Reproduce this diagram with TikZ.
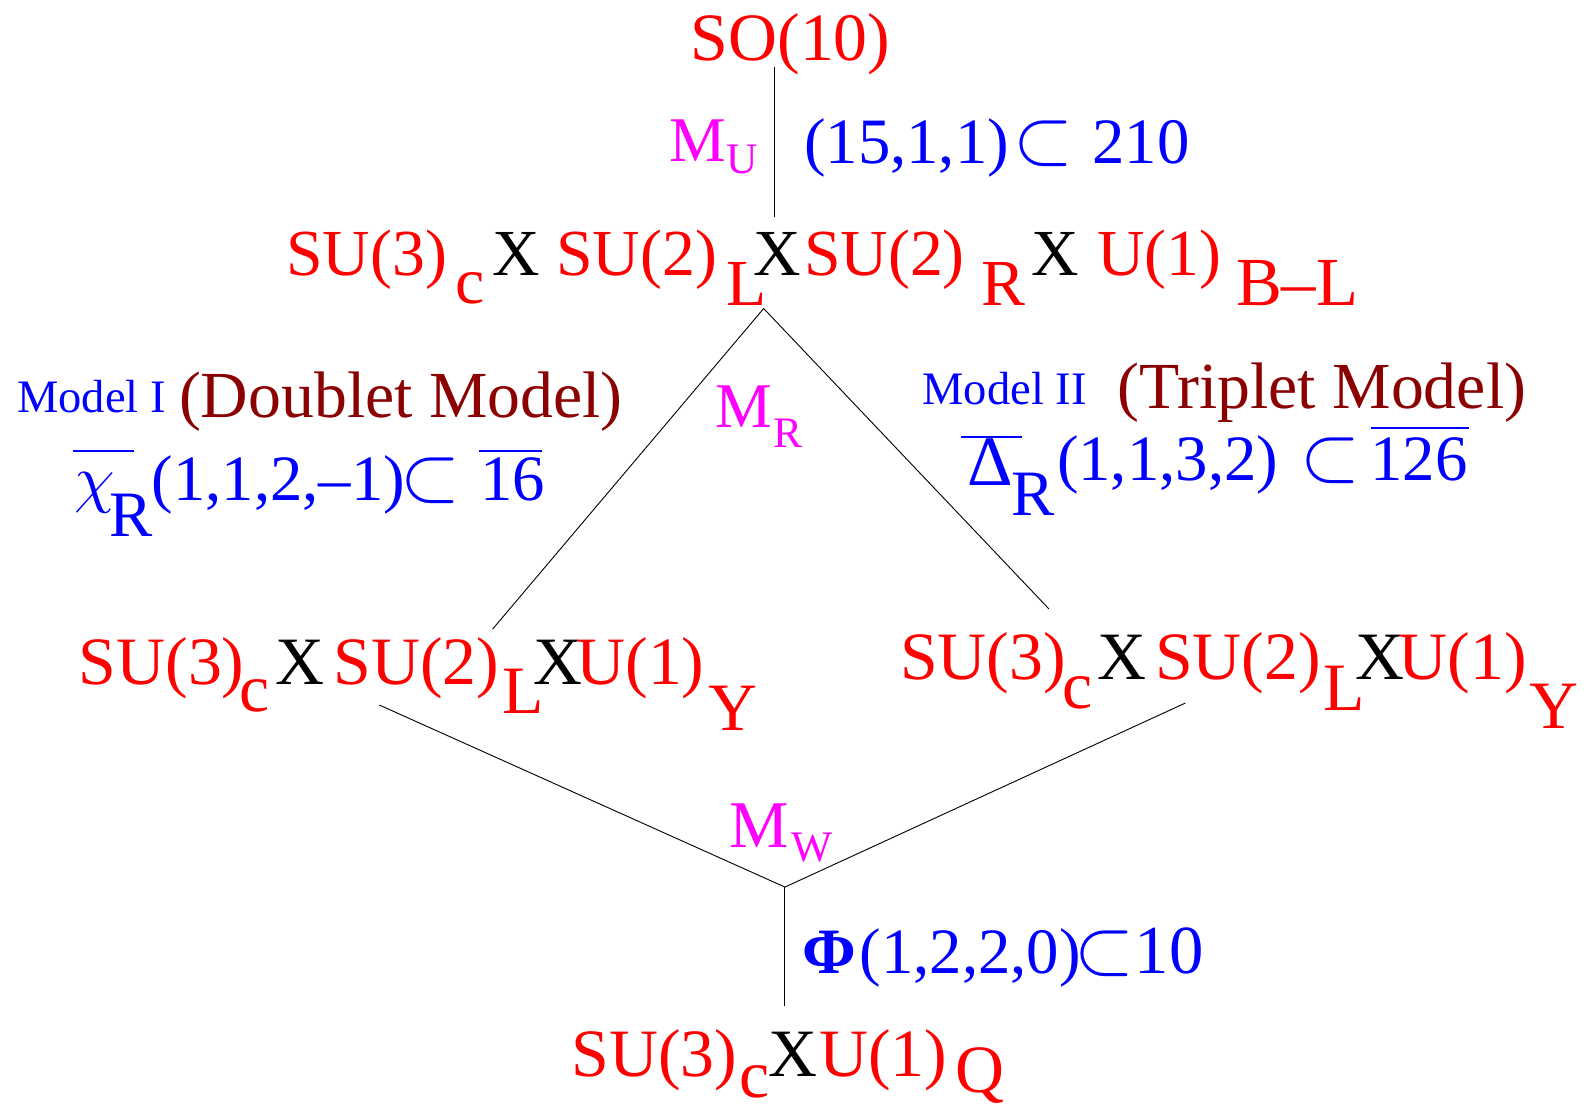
\documentclass[tikz,border=0pt]{standalone}
\usepackage{fontspec}
\setmainfont{Liberation Serif}
\definecolor{dred}{RGB}{139,0,0}
\definecolor{mgt}{RGB}{255,0,255}
\definecolor{rred}{RGB}{255,0,0}
\definecolor{bblue}{RGB}{0,0,255}
\newcommand\ovlx[4]{\rlap{\kern#2\rule[#1]{#3}{1.8pt}}#4}
\newcommand\fs[1]{\fontsize{#1}{#1}\selectfont}
\newcommand\psub{\scalebox{7.6}[7.8]{$\subset$}}
\begin{document}
\begin{tikzpicture}[x=1pt,y=-1pt,
  base/.style={inner sep=0pt,outer sep=0pt,anchor=base west},
  rA/.style={base,text=rred,font=\fs{65}},
  rB/.style={base,text=rred,font=\fs{67}},
  kA/.style={base,text=black,font=\fs{65}},
  kB/.style={base,text=black,font=\fs{67}},
  bl/.style={base,text=bblue,font=\fs{64}},
  bs/.style={base,text=bblue,font=\fs{46}},
  sub/.style={base,text=bblue,font=\fs{10}},
  dr/.style={base,text=dred,font=\fs{65}},
  mg/.style={base,text=mgt,font=\fs{63}},
  mgs/.style={base,text=mgt,font=\fs{43}},
  conn/.style={draw=black,line width=0.9pt}]
\useasboundingbox (0,0) rectangle (1568,1094);
% top
\node[rB] (so) at (683,60) {SO(10)};
\node[mg] (mu1) at (662,160) {M};
\node[mgs] (mu2) at (718,172) {U};
\node[bl] (r1a) at (795,162) {(15,1,1)};
\node[sub] (r1b) at (1002,162) {\psub};
\node[bl] (r1c) at (1080,162) {210};
% row 2
\node[rA] (a1) at (283,272) {SU(3)};
\node[rA] (a2) at (450,300) {c};
\node[kA] (a3) at (487,272) {X};
\node[rA] (a4) at (550,272) {SU(2)};
\node[rA] (a5) at (718,302) {L};
\node[kA] (a6) at (745,272) {X};
\node[rA] (a7) at (795,272) {SU(2)};
\node[rA] (a8) at (970,302) {R};
\node[kA] (a9) at (1020,272) {X};
\node[rA] (a10) at (1085,272) {U(1)};
\node[rA,font=\fs{68}] (a11) at (1222,302) {B–L};
% model I
\node[bs] (m1) at (17,408) {Model I};
\node[dr] (m1b) at (177,413) {(Doublet Model)};
\node[sub] (c1) at (74,495) {\ovlx{48pt}{-2pt}{60pt}{\scalebox{6.4}{$\chi$}}};
\node[bl] (c2) at (108,530) {R};
\node[bl] (c3) at (150,495) {(1,1,2,–1)};
\node[sub] (c4) at (396,495) {\psub};
\node[bl] (c5) at (475,495) {\ovlx{48pt}{-1pt}{62pt}{16}};
% M_R
\node[mg] (mr1) at (707,423) {M};
\node[mgs] (mr2) at (765,442) {R};
% model II
\node[bs] (m2) at (912,400) {Model II};
\node[dr] (m2b) at (1105,404) {(Triplet Model)};
\node[bl,font=\fs{70}] (d1) at (957,480) {\ovlx{47pt}{-7pt}{60pt}{Δ}};
\node[bl] (d2) at (1000,510) {R};
\node[bl] (d3) at (1045,475) {(1,1,3,2)};
\node[sub] (d4) at (1286,475) {\psub};
\node[bl] (d5) at (1355,475) {\ovlx{51pt}{0pt}{97pt}{126}};
% row 3 left
\node[rB] (l1) at (78,677) {SU(3)};
\node[rB] (l2) at (237,703) {c};
\node[kB] (l3) at (272,677) {X};
\node[rB] (l4) at (330,677) {SU(2)};
\node[rB] (l5) at (497,705) {L};
\node[kB] (l6) at (527,677) {X};
\node[rB] (l7) at (570,677) {U(1)};
\node[rB] (l8) at (700,722) {Y};
% row 3 right
\node[rB] (q1) at (890,672) {SU(3)};
\node[rB] (q2) at (1050,700) {c};
\node[kB] (q3) at (1085,672) {X};
\node[rB] (q4) at (1142,672) {SU(2)};
\node[rB] (q5) at (1308,702) {L};
\node[kB] (q6) at (1340,672) {X};
\node[rB] (q7) at (1383,672) {U(1)};
\node[rB] (q8) at (1512,720) {Y};
% M_W
\node[mg,font=\fs{66}] (mw1) at (721,838) {M};
\node[mgs] (mw2) at (783,852) {W};
% Phi
\node[bl,font=\fs{64}\bfseries] (p1) at (793,962) {Φ};
\node[bl] (p2) at (850,962) {(1,2,2,0)};
\node[sub] (p3) at (1062,962) {\psub};
\node[bl,font=\fs{68}] (p4) at (1122,962) {10};
% bottom
\node[rB] (b1) at (565,1064) {SU(3)};
\node[rB] (b2) at (731,1085) {c};
\node[kB] (b3) at (760,1064) {X};
\node[rB] (b4) at (810,1064) {U(1)};
\node[rB] (b5) at (945,1080) {Q};
% connectors
\coordinate (t1) at (766,66);
\coordinate (t2) at (766,215);
\coordinate (apex) at (755,305);
\coordinate (lt) at (487,622);
\coordinate (rt) at (1037,602);
\coordinate (lb) at (375,697);
\coordinate (rb) at (1172,695);
\coordinate (j) at (776,877);
\coordinate (bt) at (776,995);
\draw[conn] (t1) -- (t2);
\draw[conn] (apex) -- (lt);
\draw[conn] (apex) -- (rt);
\draw[conn] (lb) -- (j) -- (rb);
\draw[conn] (j) -- (bt);
\end{tikzpicture}
\end{document}
